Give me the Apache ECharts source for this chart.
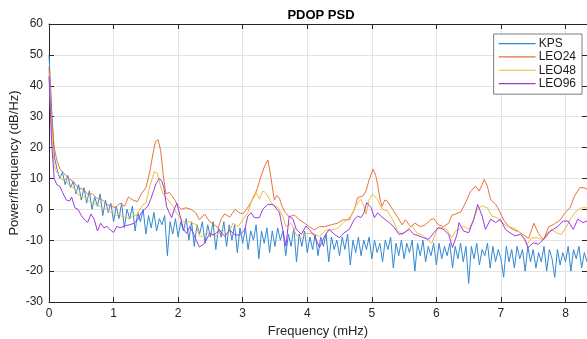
<!DOCTYPE html>
<html>
<head>
<meta charset="utf-8">
<title>PDOP PSD</title>
<script src="https://cdn.jsdelivr.net/npm/echarts/dist/echarts.min.js"></script>
<style>
html, body { margin: 0; padding: 0; background: #fff; }
#chart { width: 587px; height: 339px; }
</style>
</head>
<body>
<div id="chart"></div>
<script>
// PSD of PDOP, frequency in mHz, power in dB/Hz
var yTicks = [-30, -20, -10, 0, 10, 20, 30, 40, 50, 60];
var xTicks = [0, 1, 2, 3, 4, 5, 6, 7, 8];
var fMax = 8.333;

// KPS: evenly spaced bins, 1/24 mHz apart
var kpsStep = 1 / 24;
var kpsDb = [
    50, 32, 17, 13, 10, 12, 8, 11, 7, 9, 5, 8, 3, 7, 2, 6, 0, 4, 1, 5, -2, 3, -1, 2,
    -4, 1, -3, 2, -6, 0, -3, 1, -7, -1, -4, 0, -8, -2, -6, -1, -7, -3, -5, -2, -15, -4, -8, -3,
    -9, -4, -7, -3, -10, -4, -12, -5, -8, -4, -11, -5, -9, -4, -13, -6, -9, -4, -12, -5, -10, -5, -14, -6,
    -11, -6, -13, -7, -10, -5, -16, -7, -11, -6, -14, -7, -12, -6, -10, -7, -15, -8, -12, -6, -17, -8, -12, -7,
    -14, -9, -13, -8, -15, -9, -12, -8, -17, -9, -13, -10, -15, -9, -13, -8, -18, -10, -14, -9, -15, -10, -13, -9,
    -16, -10, -14, -11, -17, -10, -13, -9, -19, -11, -15, -10, -16, -11, -14, -10, -20, -11, -15, -10, -17, -12, -15, -11,
    -18, -11, -16, -12, -15, -11, -19, -12, -16, -11, -17, -12, -24, -12, -16, -11, -18, -13, -15, -11, -19, -12, -17, -13,
    -16, -22, -12, -17, -13, -19, -12, -16, -13, -20, -12, -17, -13, -19, -14, -17, -12, -20, -13, -16, -22, -13, -18, -14,
    -17, -12, -20, -13, -16, -12, -19, -14, -17
];

var leo24Freq = [
    0, 0.04, 0.08, 0.12, 0.17, 0.22, 0.3, 0.38, 0.45, 0.52,
    0.6, 0.67, 0.75, 0.83, 0.9, 0.97, 1.03, 1.1, 1.17, 1.23,
    1.3, 1.37, 1.43, 1.5, 1.56, 1.61, 1.65, 1.69, 1.73, 1.77,
    1.81, 1.86, 1.9, 1.95, 2.0, 2.05, 2.12, 2.2, 2.27, 2.33,
    2.41, 2.49, 2.56, 2.62, 2.67, 2.72, 2.8, 2.88, 2.94, 3.0,
    3.06, 3.12, 3.18, 3.23, 3.28, 3.34, 3.39, 3.44, 3.49, 3.53,
    3.57, 3.61, 3.65, 3.72, 3.8, 3.88, 3.96, 4.03, 4.11, 4.19,
    4.27, 4.37, 4.47, 4.55, 4.65, 4.73, 4.78, 4.86, 4.91, 4.96,
    5.02, 5.06, 5.09, 5.13, 5.16, 5.2, 5.24, 5.32, 5.39, 5.47,
    5.52, 5.6, 5.67, 5.75, 5.83, 5.91, 5.96, 6.03, 6.11, 6.19,
    6.24, 6.3, 6.38, 6.46, 6.53, 6.61, 6.66, 6.71, 6.74, 6.79,
    6.84, 6.92, 6.99, 7.04, 7.12, 7.2, 7.27, 7.35, 7.43, 7.51,
    7.58, 7.66, 7.74, 7.81, 7.92, 7.99, 8.07, 8.14, 8.22, 8.29,
    8.333
];
var leo24Db = [
    46, 30, 20, 16, 13, 12, 10, 9, 7, 6.5,
    5, 5, 3.5, 3, 1.5, 1, 0.5, 2, 1, 4,
    3, 2.5, 5, 7, 12, 18, 22, 22.5, 19, 11,
    5, 5.5, 4.5, 3, 1, 0, 0.5, 0, -1, -3.4,
    -1.5, -4, -5, -6, -3, -1.5, -2.5, 0, -1, -1.5,
    0, 2, 4.2, 7, 10.5, 14, 16, 10, 3, 4.5,
    3.5, 1, -0.8, -2.4, -1.8, -3.4, -4.5, -5.6, -6.7, -5.6,
    -5.6, -5, -4.5, -3.4, -3.4, 0, 3.8, 4.3, 5.9, 9.7,
    13, 11, 8, 3, 1, 3, 2.7, 0, -2.2, -5,
    -3.4, -5.6, -4.5, -5.6, -5, -3.4, -3, -5, -5.6, -4.5,
    -1.9, -1.5, -0.8, 2.5, 5.9, 7.5, 5.9, 8, 9.7, 7.5,
    3.2, 1.6, -1.1, -3.4, -5.6, -6.7, -7.2, -8.3, -9.4, -4.5,
    -7.8, -9.9, -5.6, -5, -3.4, -1.1, 0.5, 4.3, 7, 7,
    6.5
];

var leo48Freq = [
    0, 0.04, 0.08, 0.12, 0.16, 0.2, 0.25, 0.3, 0.38, 0.43,
    0.48, 0.55, 0.62, 0.68, 0.75, 0.82, 0.89, 0.96, 1.04, 1.1,
    1.14, 1.2, 1.25, 1.3, 1.35, 1.41, 1.46, 1.5, 1.53, 1.56,
    1.6, 1.63, 1.66, 1.68, 1.72, 1.76, 1.8, 1.84, 1.88, 1.92,
    1.97, 2.03, 2.08, 2.13, 2.18, 2.23, 2.28, 2.33, 2.38, 2.44,
    2.49, 2.54, 2.59, 2.64, 2.69, 2.77, 2.85, 2.93, 3.0, 3.08,
    3.13, 3.17, 3.21, 3.26, 3.31, 3.35, 3.39, 3.44, 3.49, 3.55,
    3.62, 3.67, 3.75, 3.83, 3.91, 3.98, 4.09, 4.19, 4.29, 4.37,
    4.47, 4.57, 4.68, 4.75, 4.83, 4.88, 4.91, 4.96, 5.01, 5.05,
    5.09, 5.16, 5.24, 5.32, 5.39, 5.47, 5.55, 5.62, 5.7, 5.78,
    5.86, 5.93, 6.01, 6.09, 6.16, 6.24, 6.3, 6.35, 6.42, 6.5,
    6.58, 6.63, 6.71, 6.79, 6.86, 6.94, 7.02, 7.09, 7.17, 7.24,
    7.32, 7.4, 7.48, 7.55, 7.63, 7.7, 7.78, 7.86, 7.94, 8.02,
    8.09, 8.17, 8.25, 8.333
];
var leo48Db = [
    44, 26, 14, 12, 11, 9.5, 10, 8, 7, 5.5,
    4.2, 4, 2.5, 2, 1.5, 0.5, 0, -1, -2, -1.5,
    -2.7, -2.5, -3.2, -2, -2.1, 0, 1.6, 2, 4.5, 7.4,
    10, 12.2, 12.5, 11.6, 8, 5.3, 4, 3.2, 2, 1,
    -1, -2.7, -4, -4.2, -4, -4.5, -5, -8.6, -8.8, -7.5,
    -7.8, -8.5, -8.8, -7, -6.7, -8.3, -4.5, -5.6, -3.4, -1.1,
    2.2, 4.5, 5.4, 3.3, 5.9, 5.5, 4.3, 2.2, 1.1, 0.5,
    -2.2, -5.6, -4.5, -8.3, -9.4, -7.8, -7.8, -8.8, -6.7, -6.7,
    -6.2, -4, -2.2, 1.1, 3.2, 1, -1.6, 3.2, 4.9, 4,
    3.2, 0, -0.5, -3.2, -6.5, -8.3, -6.5, -5.4, -7.6, -8.3,
    -9.9, -11, -6.5, -5.9, -6.5, -9.2, -7, -6.5, -5.4, -6.5,
    -3.2, 0, 1.1, 0.5, -2.2, -2.7, -4.3, -5.4, -5.9, -6.5,
    -8.1, -11.4, -9.2, -9.2, -9.7, -9.2, -6.5, -7.6, -8.1, -5.4,
    -2.7, -0.5, 0.5, 0.5
];

var leo96Freq = [
    0, 0.04, 0.08, 0.12, 0.17, 0.22, 0.27, 0.32, 0.35, 0.4,
    0.45, 0.5, 0.55, 0.6, 0.65, 0.7, 0.75, 0.8, 0.85, 0.9,
    0.95, 1.0, 1.05, 1.1, 1.18, 1.25, 1.32, 1.38, 1.43, 1.48,
    1.53, 1.58, 1.62, 1.66, 1.71, 1.75, 1.78, 1.82, 1.86, 1.9,
    1.94, 1.98, 2.03, 2.08, 2.13, 2.18, 2.23, 2.28, 2.33, 2.41,
    2.49, 2.56, 2.64, 2.72, 2.8, 2.88, 2.95, 3.03, 3.08, 3.13,
    3.18, 3.26, 3.31, 3.39, 3.47, 3.53, 3.57, 3.62, 3.67, 3.72,
    3.78, 3.83, 3.91, 3.98, 4.03, 4.11, 4.19, 4.27, 4.34, 4.42,
    4.5, 4.57, 4.65, 4.73, 4.78, 4.83, 4.88, 4.92, 4.99, 5.04,
    5.09, 5.14, 5.2, 5.27, 5.35, 5.42, 5.5, 5.58, 5.65, 5.73,
    5.8, 5.88, 5.96, 6.03, 6.11, 6.19, 6.25, 6.32, 6.35, 6.42,
    6.5, 6.58, 6.64, 6.71, 6.76, 6.84, 6.92, 6.99, 7.07, 7.14,
    7.22, 7.3, 7.37, 7.42, 7.5, 7.58, 7.66, 7.73, 7.81, 7.89,
    7.96, 8.04, 8.12, 8.19, 8.27, 8.333
];
var leo96Db = [
    43, 22, 10, 8, 7.4, 5, 3, 2.7, 4, 0.5,
    0, -2, -3.4, -4.2, -1.5, -3.2, -7, -4.5, -6, -5.5,
    -6.7, -7.5, -5.5, -6, -5.3, -5, -4.5, -3.2, -1, 0,
    1, 3.5, 6, 8.4, 10, 9, 7, 1, -1, -2.7,
    0, 2, -2, -6.3, -7.8, -5.6, -7.5, -10, -12.2, -11,
    -7.8, -8.3, -6.7, -8.8, -6.7, -8.3, -8.3, -6.7, -2.2, -1.1,
    -2.7, -2.7, 0, 1.6, 1.6, 0, -1.1, -6.5, -11.9, -2.2,
    -3.2, -6.5, -8.1, -5.4, -6.5, -8.6, -12.4, -8.6, -6.5, -8.1,
    -9.2, -7.6, -6.5, -3.2, -2.2, -2.7, -1.1, 2.2, 0.5, -2.7,
    -1.1, -2.2, -3.2, -4.3, -5.9, -8.1, -7.6, -6.5, -8.1, -8.6,
    -9.2, -9.7, -7.6, -5.9, -6.5, -8.1, -12.4, -8.1, -4.3, -7,
    -7.6, -3.2, 1.6, -2.2, -6.5, -3.2, -4.3, -3.2, -6.5, -7.6,
    -8.6, -8.1, -9.7, -12.4, -10.8, -11.3, -9.7, -7.6, -6.5, -5.4,
    -3.8, -3.8, -6.5, -3.2, -4.3, -3.8
];

var seriesNames = ['KPS', 'LEO24', 'LEO48', 'LEO96'];
var seriesColors = ['#3288d2', '#e8733a', '#f0bb3c', '#9c3ae4'];

function pairs(freq, db) {
    return db.map(function (v, i) { return [freq[i], v]; });
}
var kpsData = kpsDb.map(function (v, i) { return [i * kpsStep, v]; });
var allData = [kpsData, pairs(leo24Freq, leo24Db), pairs(leo48Freq, leo48Db), pairs(leo96Freq, leo96Db)];

var ink = '#262626';
var font = 'Liberation Sans, Arial, Helvetica, sans-serif';

var myChart = echarts.init(document.getElementById('chart'), null, {renderer: 'canvas'});

var xBase = {
    type: 'value',
    min: xTicks[0],
    max: fMax,
    interval: 1,
    axisLine: {show: true, onZero: false, lineStyle: {color: ink, width: 1}},
    axisTick: {show: true, inside: true, length: 5, lineStyle: {color: ink}},
    splitLine: {show: false}
};
var yBase = {
    type: 'value',
    min: yTicks[0],
    max: yTicks[yTicks.length - 1],
    interval: 10,
    axisLine: {show: true, onZero: false, lineStyle: {color: ink, width: 1}},
    axisTick: {show: true, inside: true, length: 5, lineStyle: {color: ink}},
    splitLine: {show: false}
};

var option = {
    animation: false,
    backgroundColor: '#fff',
    color: seriesColors,
    title: {
        text: 'PDOP PSD',
        left: 316,
        textAlign: 'center',
        top: 4,
        textStyle: {fontFamily: font, fontSize: 13, fontWeight: 'bold', color: '#000'}
    },
    grid: {left: 49, right: 0, top: 24, bottom: 37, containLabel: false, outerBoundsMode: 'none'},
    legend: {
        data: seriesNames.map(function (n) { return {name: n, icon: 'rect'}; }),
        orient: 'vertical',
        right: 5,
        top: 34,
        itemWidth: 37,
        itemHeight: 1.2,
        itemGap: 0,
        padding: [3, 6, 4, 5],
        backgroundColor: '#fff',
        borderColor: ink,
        borderWidth: 0.6,
        borderRadius: 0,
        textStyle: {fontFamily: font, fontSize: 12, lineHeight: 13.3, color: '#1a1a1a', padding: [0, 0, 0, -2]}
    }
};

option.xAxis = [
    Object.assign({}, xBase, {
        position: 'bottom',
        name: 'Frequency (mHz)',
        nameLocation: 'middle',
        nameGap: 21,
        nameTextStyle: {fontFamily: font, fontSize: 13, color: ink},
        axisLabel: {show: true, margin: 6, fontFamily: font, fontSize: 12, color: ink, showMaxLabel: false},
        splitLine: {show: true, lineStyle: {color: '#e3e3e3', width: 1}}
    }),
    Object.assign({}, xBase, {
        position: 'top',
        axisLabel: {show: false}
    })
];
option.yAxis = [
    Object.assign({}, yBase, {
        position: 'left',
        name: 'Power/frequency (dB/Hz)',
        nameLocation: 'middle',
        nameGap: 28,
        nameMoveOverlap: false,
        nameTextStyle: {fontFamily: font, fontSize: 13, color: ink},
        axisLabel: {show: true, margin: 6, fontFamily: font, fontSize: 12, color: ink},
        splitLine: {show: true, lineStyle: {color: '#e3e3e3', width: 1}}
    }),
    Object.assign({}, yBase, {
        position: 'right',
        axisLabel: {show: false}
    })
];
option.series = seriesNames.map(function (name, k) {
    return {
        name: name,
        type: 'line',
        data: allData[k],
        xAxisIndex: 0,
        yAxisIndex: 0,
        symbol: 'none',
        showSymbol: false,
        lineStyle: {width: 1, color: seriesColors[k]},
        itemStyle: {color: seriesColors[k]},
        z: 2 + k
    };
});

myChart.setOption(option);
</script>
</body>
</html>
